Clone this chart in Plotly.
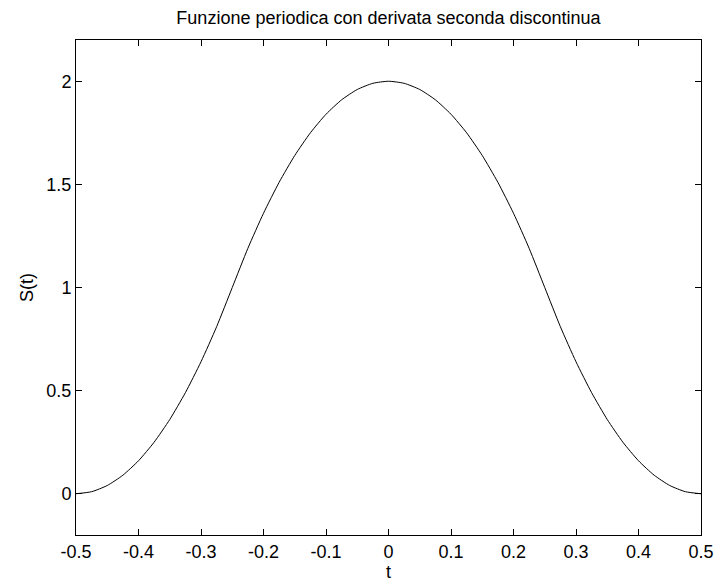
import plotly.graph_objects as go

# Values
t_values = [-0.5, -0.475, -0.45, -0.425, -0.4, -0.375, -0.35, -0.325, -0.3, -0.275,
            -0.25, -0.225, -0.2, -0.175, -0.15, -0.125, -0.1, -0.075, -0.05, -0.025,
            0.0, 0.025, 0.05, 0.075, 0.1, 0.125, 0.15, 0.175, 0.2, 0.225,
            0.25, 0.275, 0.3, 0.325, 0.35, 0.375, 0.4, 0.425, 0.45, 0.475, 0.5]
s_values = [0.00, 0.01, 0.04, 0.09, 0.16, 0.25, 0.36, 0.49, 0.64, 0.81,
            1.00, 1.19, 1.36, 1.51, 1.64, 1.75, 1.84, 1.91, 1.96, 1.99,
            2.00, 1.99, 1.96, 1.91, 1.84, 1.75, 1.64, 1.51, 1.36, 1.19,
            1.00, 0.81, 0.64, 0.49, 0.36, 0.25, 0.16, 0.09, 0.04, 0.01, 0.00]

x_tickvals = [-0.5, -0.4, -0.3, -0.2, -0.1, 0, 0.1, 0.2, 0.3, 0.4, 0.5]
x_ticktext = ["-0.5", "-0.4", "-0.3", "-0.2", "-0.1", "0", "0.1", "0.2", "0.3", "0.4", "0.5"]
y_tickvals = [0, 0.5, 1, 1.5, 2]
y_ticktext = ["0", "0.5", "1", "1.5", "2"]

title_text = "Funzione periodica con derivata seconda discontinua"

fig = go.Figure()
fig.add_trace(go.Scatter(
    x=t_values, y=s_values, mode="lines",
    line=dict(color="black", width=1, shape="spline", smoothing=0.6),
    showlegend=False, hoverinfo="skip",
))

font_family = "Liberation Sans, Arial, sans-serif"
fs = 18
axis_common = dict(
    showline=True, linecolor="black", linewidth=1, mirror="ticks",
    ticks="inside", ticklen=6, tickcolor="black", tickwidth=1,
    showgrid=False, zeroline=False, automargin=False,
    tickfont=dict(family=font_family, size=fs, color="black"),
)

fig.update_layout(
    width=715, height=583,
    margin=dict(l=76, r=14, t=40, b=48),
    paper_bgcolor="white", plot_bgcolor="white",
    title=dict(text=title_text, x=0.5, xanchor="center", xref="paper",
               y=1 - 18 / 583, yanchor="middle", yref="container",
               font=dict(family=font_family, size=fs, color="black")),
    font=dict(family=font_family, color="black"),
)
fig.update_xaxes(range=[-0.5, 0.5], tickvals=x_tickvals, ticktext=x_ticktext,
                 title=dict(text="t", standoff=4, font=dict(family=font_family, size=fs, color="black")),
                 **axis_common)
fig.update_yaxes(range=[-0.2, 2.2], tickvals=y_tickvals, ticktext=y_ticktext,
                 title=dict(text="S(t)", standoff=8, font=dict(family=font_family, size=fs, color="black")),
                 **axis_common)

fig.write_html("out.html")
